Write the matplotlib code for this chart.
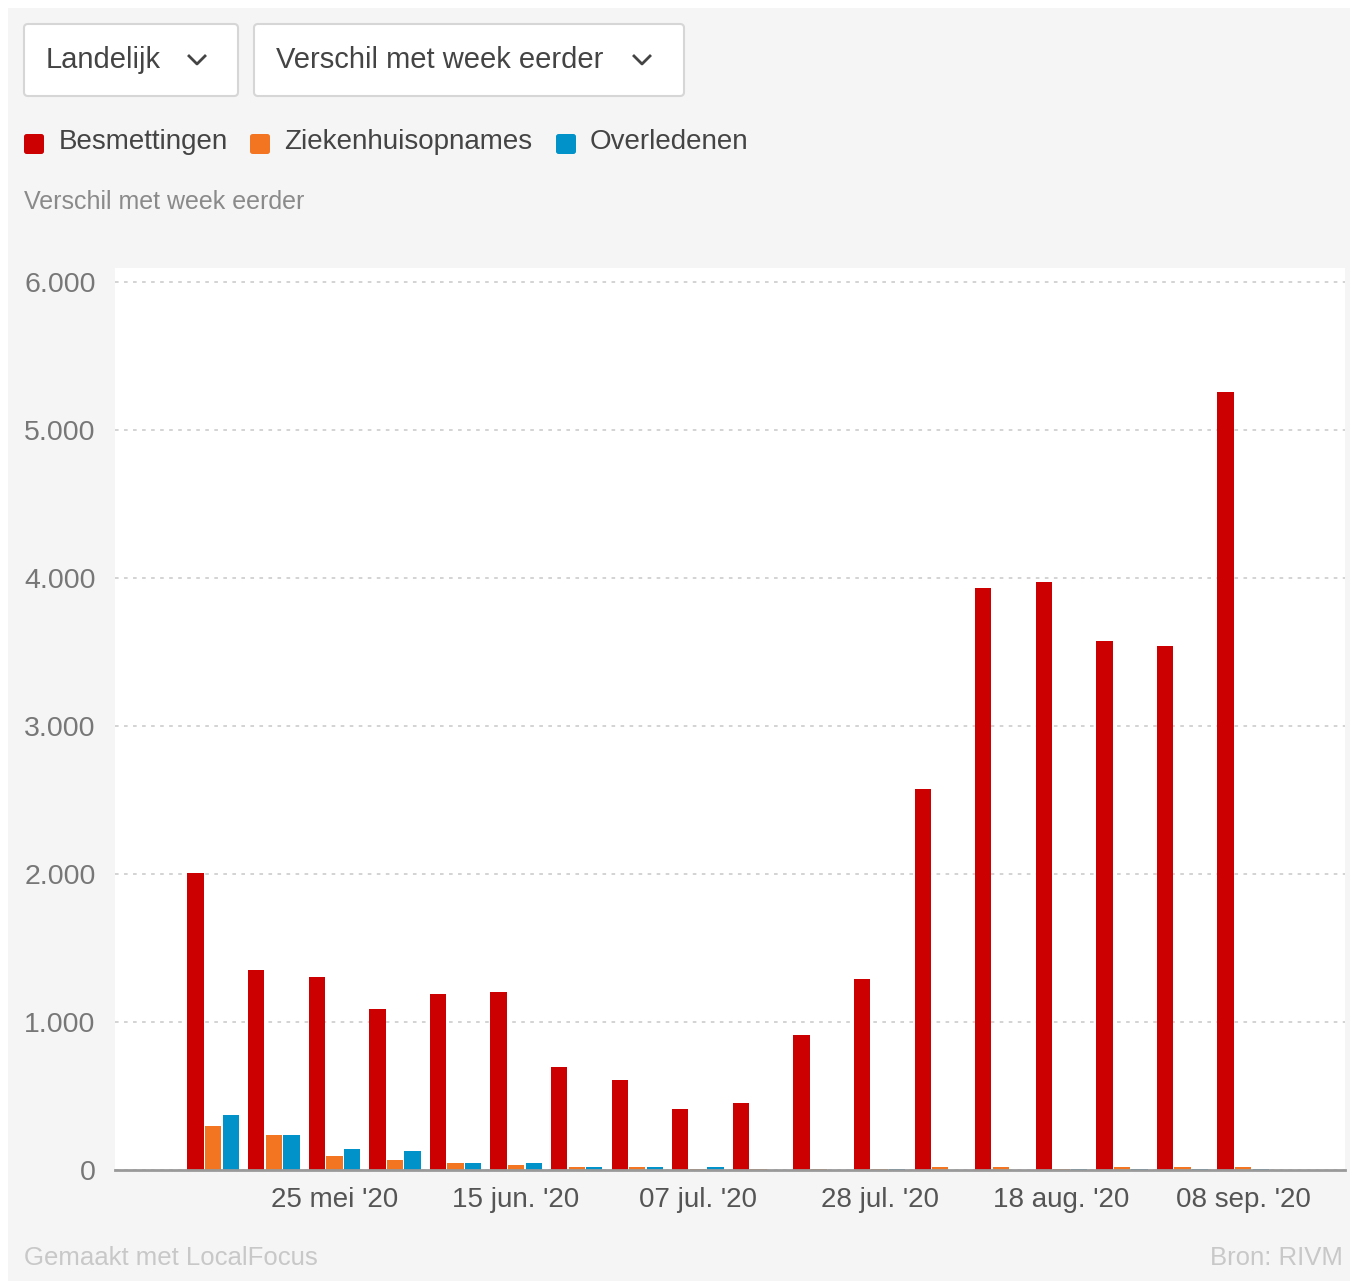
"""Weekly change in COVID-19 figures (RIVM), LocalFocus style bar chart."""
import matplotlib
matplotlib.use('Agg')
import matplotlib.pyplot as plt
from matplotlib.patches import FancyBboxPatch, Rectangle
from matplotlib.ticker import FuncFormatter
import numpy as np

plt.rcParams['font.family'] = ['Liberation Sans', 'DejaVu Sans']

# Data (one group per week)
weeks = np.arange(18)
besmettingen = [2010, 1350, 1305, 1090, 1190, 1205, 695, 610, 410, 455,
                910, 1290, 2575, 3930, 3975, 3575, 3540, 5255]
ziekenhuisopnames = [295, 238, 95, 68, 50, 34, 22, 18, 5, 6,
                     6, 6, 22, 20, 6, 20, 20, 22]
overledenen = [372, 238, 140, 126, 50, 50, 22, 22, 22, 0,
               0, 8, 0, 0, 8, 8, 8, 8]
tick_pos = [2, 5, 8, 11, 14, 17]
tick_labels = ["25 mei '20", "15 jun. '20", "07 jul. '20",
               "28 jul. '20", "18 aug. '20", "08 sep. '20"]
series_names = ['Besmettingen', 'Ziekenhuisopnames', 'Overledenen']
colors = ['#cc0000', '#f47521', '#0092c8']

W, H = 1357, 1281
fig = plt.figure(figsize=(W / 100, H / 100), dpi=100, facecolor='white')

# grey panel behind everything
fig.patches.append(Rectangle((8 / W, 0), (1350 - 8) / W, (H - 8) / H,
                             transform=fig.transFigure, facecolor='#f5f5f5',
                             edgecolor='none', zorder=-10))


def fx(px):
    return px / W


def fy(py):
    return 1 - py / H


# dropdown boxes
for x0, x1, label, cx in [(24, 238, 'Landelijk', 197), (254, 684, 'Verschil met week eerder', 642)]:
    fig.patches.append(FancyBboxPatch((fx(x0), fy(96)), fx(x1 - x0), (96 - 24) / H,
                                      boxstyle='round,pad=0,rounding_size=0.003',
                                      transform=fig.transFigure, facecolor='white',
                                      edgecolor='#d6d6d6', linewidth=1.5))
    fig.text(fx(x0 + 22), fy(60), label, fontsize=21, color='#444444', va='center', ha='left')
    fig.lines.append(plt.Line2D([fx(cx - 8), fx(cx), fx(cx + 8)], [fy(56), fy(64), fy(56)],
                                transform=fig.transFigure, color='#444444', linewidth=2))

# legend
for sq_x, txt_x, name, col in zip([24, 250, 556], [59, 284, 590], series_names, colors):
    fig.patches.append(FancyBboxPatch((fx(sq_x), fy(154)), fx(20), 20 / H,
                                      boxstyle='round,pad=0,rounding_size=0.002',
                                      transform=fig.transFigure, facecolor=col,
                                      edgecolor='none'))
    fig.text(fx(txt_x), fy(142), name, fontsize=20, color='#444444', va='center', ha='left')

fig.text(fx(24), fy(202), 'Verschil met week eerder', fontsize=18, color='#8a8a8a',
         va='center', ha='left')

# chart
ax = fig.add_axes([fx(115), fy(1170), fx(1345 - 115), (1170 - 268) / H])
ax.set_facecolor('white')

offset = 0.29
for i, (vals, col) in enumerate(zip([besmettingen, ziekenhuisopnames, overledenen], colors)):
    ax.bar(weeks + (i - 1) * offset, vals, width=0.27, color=col, zorder=3)

ax.set_xlim(-1.62, 18.68)
ax.set_ylim(0, 6095)
ax.set_yticks(range(0, 6001, 1000))
ax.yaxis.set_major_formatter(FuncFormatter(lambda v, p: format(int(v), ',').replace(',', '.')))
ax.set_xticks(tick_pos)
ax.set_xticklabels(tick_labels)

ax.grid(axis='y', color='#d0d0d0', linestyle=(0, (2, 3)), linewidth=1.3, zorder=0)
for s in ['top', 'right', 'left']:
    ax.spines[s].set_visible(False)
ax.spines['bottom'].set_color('#999999')
ax.spines['bottom'].set_linewidth(2)
ax.spines['bottom'].set_zorder(4)

ax.tick_params(axis='y', length=0, pad=14, labelsize=20.5, labelcolor='#777777')
ax.tick_params(axis='x', length=0, pad=12, labelsize=20, labelcolor='#555555')

# footer
fig.text(fx(24), fy(1258), 'Gemaakt met LocalFocus', fontsize=18.5, color='#c8c8c8',
         va='center', ha='left')
fig.text(fx(1343), fy(1258), 'Bron: RIVM', fontsize=18.5, color='#c8c8c8',
         va='center', ha='right')

plt.savefig('out.png', dpi=100, facecolor=fig.get_facecolor())
